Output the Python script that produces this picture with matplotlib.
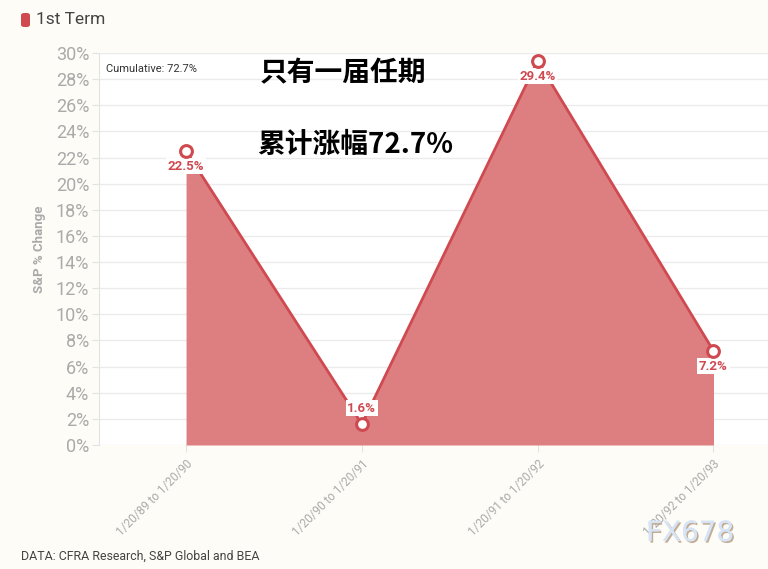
import matplotlib
matplotlib.use("Agg")
import matplotlib.pyplot as plt
import matplotlib.patheffects as pe
from matplotlib.patches import FancyBboxPatch

categories = ["1/20/89 to 1/20/90", "1/20/90 to 1/20/91", "1/20/91 to 1/20/92", "1/20/92 to 1/20/93"]
values = [22.5, 1.6, 29.4, 7.2]
value_labels = ["22.5%", "1.6%", "29.4%", "7.2%"]
label_above = [False, True, False, False]
yticks = list(range(0, 31, 2))
ytick_labels = [f"{t}%" for t in yticks]
series_name = "1st Term"

RED = "#cf4a50"
FILL = "#dd7f80"
BG = "#fdfcf7"

fig = plt.figure(figsize=(7.68, 5.69), dpi=100, facecolor=BG)
ax = fig.add_axes([99/768, 1-445/569, 1-99/768, (445-53)/569])
ax.set_facecolor("white")

x = list(range(len(categories)))
ax.fill_between(x, values, 0, color=FILL, lw=0, zorder=2)
ax.plot(x, values, color=RED, lw=2.0, zorder=3)
ax.plot(x, values, "o", ms=8.5, mfc="white", mec=RED, mew=2.2, zorder=5)
for xi, v, lab, up in zip(x, values, value_labels, label_above):
    ax.annotate(lab, (xi, v), xytext=(0, 11.5 if up else -11), textcoords="offset points",
                ha="center", va="center", fontsize=9.5, fontweight="bold",
                color=RED, family="Roboto", zorder=4,
                bbox=dict(boxstyle="square,pad=0.12", fc="white", ec="none"))

ax.set_xlim(-0.495, 3.31)
ax.set_ylim(0, 30)
ax.set_yticks(yticks)
ax.set_yticklabels(ytick_labels, fontsize=13, color="#aaaaaa", family="Roboto")
ax.set_xticks(x)
ax.set_xticklabels(categories, rotation=45, ha="right", va="top", fontsize=8.5,
                   color="#aaaaaa", family="Roboto", rotation_mode="anchor")
ax.tick_params(axis="y", length=5, color="#e3e3e3", pad=2)
ax.tick_params(axis="x", length=5, color="#e3e3e3", pad=4)
ax.grid(axis="y", color="#ebebeb", lw=1, zorder=0)
ax.set_axisbelow(True)
for s in ["top", "right", "bottom"]:
    ax.spines[s].set_visible(False)
ax.spines["left"].set_color("#e3e3e3")
ax.set_ylabel("S&P % Change", fontsize=9.5, fontweight="bold", color="#aaaaaa",
              family="Roboto", labelpad=7)

ax.text(0.01, 0.96, "Cumulative: 72.7%", transform=ax.transAxes, fontsize=8,
        color="#333333", family="Roboto", va="center", ha="left")

cjk = ["Noto Sans CJK SC", "DejaVu Sans"]
fig.text(343/768, 1-73/569, "只有一届任期", fontsize=20, fontweight="bold",
         family=cjk, color="black", ha="center", va="center")
fig.text(355/768, 1-145/569, "累计涨幅72.7%", fontsize=20, fontweight="bold",
         family=cjk, color="black", ha="center", va="center")

# legend
fig.patches.append(FancyBboxPatch((21/768, 1-27/569), 9/768, 14/569,
                                  boxstyle="round,pad=0,rounding_size=0.004",
                                  transform=fig.transFigure, fc=RED, ec="none"))
fig.text(36/768, 1-20/569, series_name, fontsize=12.5, color="#444444",
         family="Roboto", va="center", ha="left")

fig.text(21/768, 1-556/569, "DATA: CFRA Research, S&P Global and BEA", fontsize=8.9,
         color="#444444", family="Roboto", va="center", ha="left")

fig.text(690/768, 1-533/569, "FX678", fontsize=20, color="#d6e4f5",
         family="DejaVu Sans", ha="center", va="center",
         path_effects=[pe.withSimplePatchShadow(offset=(1.2, -1.2), shadow_rgbFace="#b59a80", alpha=0.8), pe.Normal()])

fig.savefig("out.png", dpi=100, facecolor=BG)
